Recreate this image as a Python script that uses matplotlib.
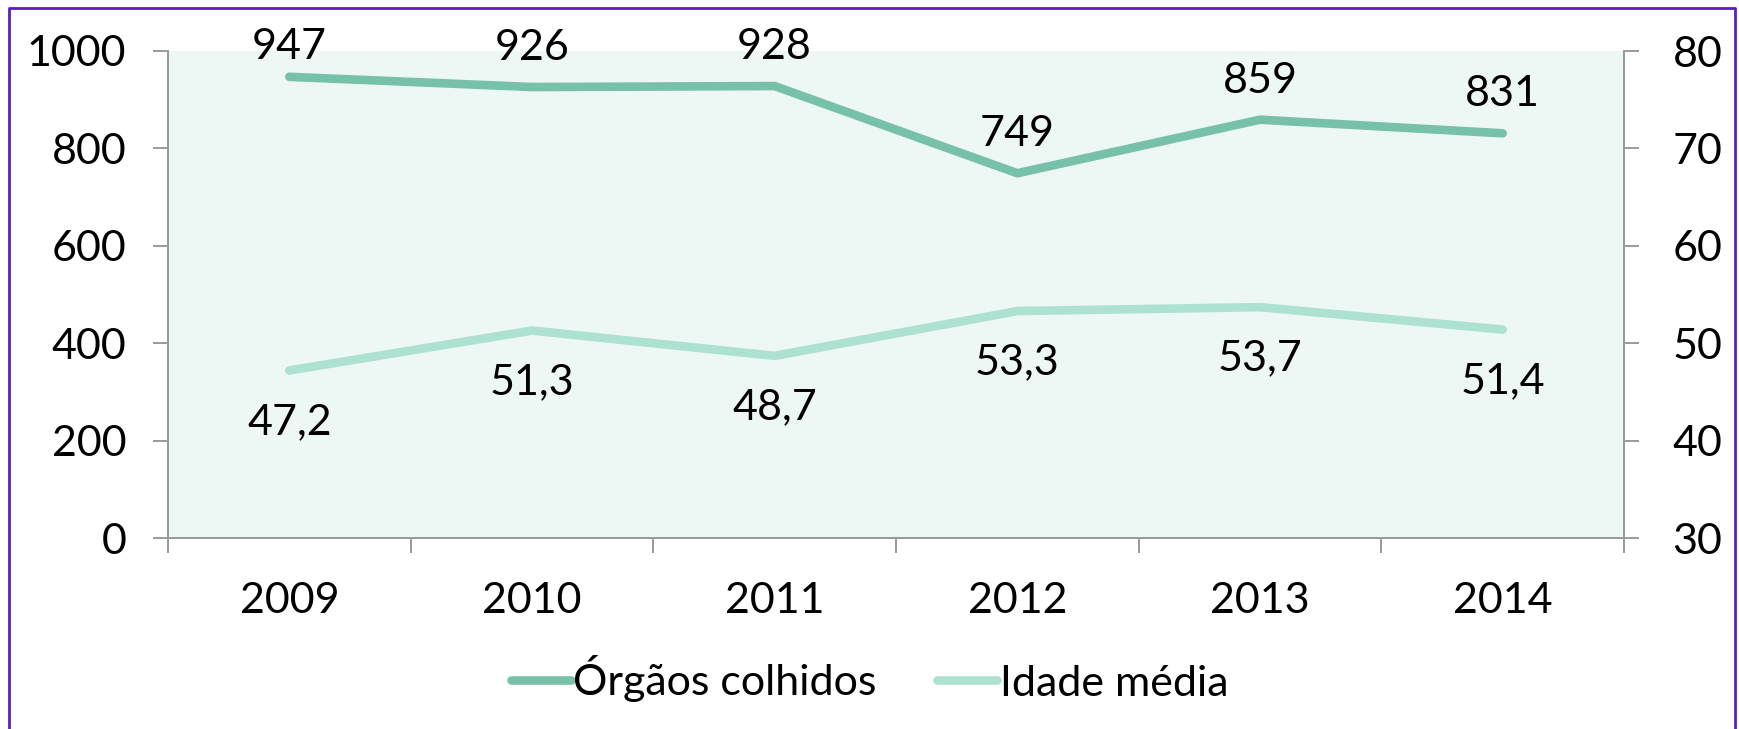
import matplotlib
matplotlib.use("Agg")
import matplotlib.pyplot as plt
from matplotlib.lines import Line2D

# Données du graphique
anos = ["2009", "2010", "2011", "2012", "2013", "2014"]
orgaos = [947, 926, 928, 749, 859, 831]
idade = [47.2, 51.3, 48.7, 53.3, 53.7, 51.4]
rotulos_idade = ["47,2", "51,3", "48,7", "53,3", "53,7", "51,4"]

cor_orgaos = "#77C1AB"
cor_idade = "#ADE1D1"
cor_eixo = "#9A9A9A"
fs = 31

plt.rcParams['font.family'] = ['Lato', 'DejaVu Sans']

fig = plt.figure(figsize=(17.39, 7.29), dpi=100)
ax = fig.add_axes([168 / 1739, 1 - 538 / 729, (1624 - 168) / 1739, (538 - 51) / 729])
ax2 = ax.twinx()

x = list(range(len(anos)))

# Série principal (eixo esquerdo)
ax.plot(x, orgaos, color=cor_orgaos, lw=6.2, solid_capstyle="round", solid_joinstyle="miter")
# rótulos acima dos pontos, limitados ao topo da área do gráfico (como no Excel)
for xi, v in zip(x, orgaos):
    y_frac = min(v / 1000 + 0.08, 1.008)
    ax.text(xi, y_frac, str(v), transform=ax.get_xaxis_transform(),
            ha="center", va="center", fontsize=fs)

# Série secundária (eixo direito)
ax2.plot(x, idade, color=cor_idade, lw=6.2, solid_capstyle="round", solid_joinstyle="miter")
for xi, v, r in zip(x, idade, rotulos_idade):
    ax2.annotate(r, (xi, v), xytext=(0, -37), textcoords="offset points",
                 ha="center", va="center", fontsize=fs)

ax.set_xlim(-0.5, len(anos) - 0.5)
ax.set_ylim(0, 1000)
ax2.set_ylim(30, 80)
ax.set_yticks([0, 200, 400, 600, 800, 1000])
ax2.set_yticks([30, 40, 50, 60, 70, 80])
ax.set_xticks(x)
ax.set_xticklabels(anos)
ax.set_xticks([i - 0.5 for i in range(len(anos) + 1)], minor=True)

ax.set_facecolor("#EDF7F3")
for a in (ax, ax2):
    a.spines["top"].set_visible(False)
    for s in ("left", "right", "bottom"):
        a.spines[s].set_color(cor_eixo)
        a.spines[s].set_linewidth(1.4)

ax.tick_params(axis="y", length=11, width=1.4, color=cor_eixo, labelsize=fs, pad=19)
ax2.tick_params(axis="y", length=11, width=1.4, color=cor_eixo, labelsize=fs, pad=24)
ax.tick_params(axis="x", which="major", length=0, labelsize=fs, pad=32)
ax.tick_params(axis="x", which="minor", length=11, width=1.4, color=cor_eixo)

# Legenda
handles = [Line2D([], [], color=cor_orgaos, lw=6.2, solid_capstyle="round"),
           Line2D([], [], color=cor_idade, lw=6.2, solid_capstyle="round")]
fig.legend(handles, ["Órgãos colhidos", "Idade média"], loc="center",
           bbox_to_anchor=(0.5, 1 - 679 / 729), ncol=2, frameon=False, fontsize=fs,
           handlelength=1.4, handletextpad=0.05, columnspacing=1.4)

# Moldura roxa
cor_moldura = "#5B1FBF"
fig.add_artist(Line2D([9 / 1739, 9 / 1739, 1735 / 1739, 1735 / 1739],
                      [0, 1 - 8 / 729, 1 - 8 / 729, 0],
                      transform=fig.transFigure, color=cor_moldura, lw=2))

fig.savefig("out.png", dpi=100)
